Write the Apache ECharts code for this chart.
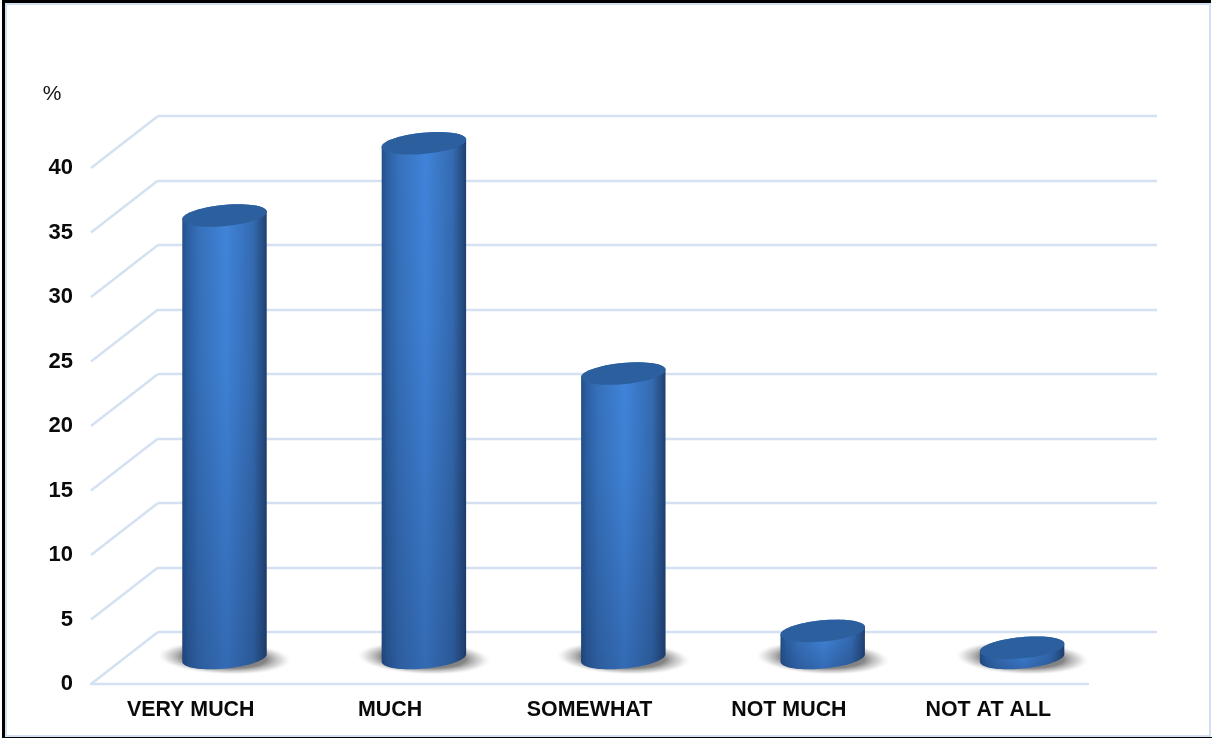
<!DOCTYPE html>
<html>
<head>
<meta charset="utf-8">
<style>html,body{margin:0;padding:0;background:#fff;overflow:hidden}#c{width:1212px;height:738px}</style>
<script src="https://cdn.jsdelivr.net/npm/echarts@6/dist/echarts.min.js"></script>
</head>
<body>
<div id="c"></div>
<script>
const categories = ['VERY MUCH', 'MUCH', 'SOMEWHAT', 'NOT MUCH', 'NOT AT ALL'];
const values = [34.3, 39.9, 22.05, 2.1, 0.8];
const yTicks = [0, 5, 10, 15, 20, 25, 30, 35, 40];
const yUnit = '%';

const FONT = '"Liberation Sans", Arial, sans-serif';
const LINE = '#d4e1f2';
const DEPTH = [67, -52];
const chart = echarts.init(document.getElementById('c'), null, {renderer: 'canvas'});
const G = echarts.graphic;

function ellipsePts(cx, cy, rx, ry, rot, from, to, n) {
  const p = [];
  for (let k = 0; k <= n; k++) {
    const t = from + (to - from) * k / n;
    const ex = rx * Math.cos(t), ey = ry * Math.sin(t);
    p.push([cx + ex * Math.cos(rot) - ey * Math.sin(rot), cy + ex * Math.sin(rot) + ey * Math.cos(rot)]);
  }
  return p;
}

function renderCyl(params, api) {
  const i = api.value(0), v = api.value(1);
  const b = api.coord([i, 0]), t = api.coord([i, v]);
  const cx = b[0] + DEPTH[0] / 2 + 0.3, by = b[1] + DEPTH[1] / 2, ty = t[1] + DEPTH[1] / 2;
  const rx = 42.4, ry = 10.6, rot = -0.095;
  const bottom = ellipsePts(cx, by, rx, ry, rot, Math.PI, 0, 40);
  const topArc = ellipsePts(cx, ty, rx, ry, rot, 0, -Math.PI, 40);
  const pts = bottom.concat(topArc);
  const horiz = new G.LinearGradient(0, 0, 1, 0, [
    {offset: 0, color: '#234f88'}, {offset: 0.07, color: '#2c60a3'}, {offset: 0.2, color: '#3671bb'},
    {offset: 0.52, color: '#4084da'}, {offset: 0.84, color: '#346bb1'},
    {offset: 0.95, color: '#274f86'}, {offset: 1, color: '#1f3f70'}
  ]);
  const vert = new G.LinearGradient(0, 0, 0, 1, [
    {offset: 0, color: 'rgba(20,40,80,0)'}, {offset: 0.35, color: 'rgba(20,40,80,0.04)'},
    {offset: 1, color: 'rgba(20,40,80,0.28)'}
  ]);
  return {
    type: 'group',
    children: [
      {type: 'circle', shape: {cx: 0, cy: 0, r: 50}, x: cx, y: by, scaleX: 1.34, scaleY: 0.33, rotation: -0.04,
       style: {fill: new G.RadialGradient(0.5, 0.5, 0.5, [
         {offset: 0, color: 'rgba(100,100,100,0.95)'}, {offset: 0.62, color: 'rgba(120,120,120,0.9)'},
         {offset: 0.85, color: 'rgba(185,185,185,0.5)'}, {offset: 1, color: 'rgba(230,230,230,0)'}
       ])}},
      {type: 'polygon', shape: {points: pts}, style: {fill: horiz}},
      {type: 'polygon', shape: {points: pts}, style: {fill: vert}},
      {type: 'polygon', shape: {points: ellipsePts(cx, ty, rx, ry, rot, 0, 2 * Math.PI, 60)}, style: {fill: '#2c5f9e'}}
    ]
  };
}

function renderDiag(params, api) {
  const p = api.coord([0, api.value(0)]);
  const x0 = params.coordSys.x;
  return {type: 'line', shape: {x1: x0, y1: p[1], x2: x0 + DEPTH[0], y2: p[1] + DEPTH[1]},
          style: {stroke: LINE, lineWidth: 2.4, fill: null}};
}

chart.setOption({
  animation: false,
  backgroundColor: '#fff',
  graphic: [
    {type: 'rect', shape: {x: 2, y: 0, width: 1209, height: 3}, z: 10, silent: true, style: {fill: '#000'}},
    {type: 'rect', shape: {x: 2, y: 0, width: 3, height: 738}, z: 10, silent: true, style: {fill: '#000'}},
    {type: 'rect', shape: {x: 2, y: 737, width: 1210, height: 1}, z: 10, silent: true, style: {fill: '#000'}},
    {type: 'rect', shape: {x: 6, y: 4, width: 1204, height: 732}, z: 10, silent: true,
     style: {fill: null, stroke: '#d3e0f2', lineWidth: 2}},
    {type: 'text', x: 52, y: 94, z: 10, style: {text: yUnit, font: '21px ' + FONT, fill: '#111', align: 'center', verticalAlign: 'middle'}}
  ],
  grid: [
    {left: 91, top: 168, width: 997, height: 516},
    {left: 158, top: 116, width: 999, height: 516}
  ],
  xAxis: [
    {type: 'category', gridIndex: 0, data: categories,
     axisLine: {show: true, lineStyle: {color: LINE, width: 2.4}}, axisTick: {show: false},
     axisLabel: {margin: 15.5, color: '#0a0a0a', fontFamily: FONT, fontSize: 21.4, fontWeight: 'bold', interval: 0}},
    {type: 'category', gridIndex: 1, data: categories, show: false}
  ],
  yAxis: [
    {type: 'value', gridIndex: 0, min: 0, max: 40, interval: 5,
     axisLine: {show: false}, axisTick: {show: false}, splitLine: {show: false},
     axisLabel: {margin: 18, padding: [4, 0, 0, 0], color: '#0a0a0a', fontFamily: FONT, fontSize: 22, fontWeight: 'bold'}},
    {type: 'value', gridIndex: 1, min: 0, max: 40, interval: 5,
     axisLine: {show: false}, axisTick: {show: false}, axisLabel: {show: false},
     splitLine: {show: true, lineStyle: {color: LINE, width: 2.4}}}
  ],
  series: [
    {type: 'custom', xAxisIndex: 0, yAxisIndex: 0, data: yTicks.map(t => [t]), encode: {y: 0}, renderItem: renderDiag, silent: true, z: 1},
    {type: 'custom', xAxisIndex: 0, yAxisIndex: 0, data: values.map((v, i) => [i, v]), encode: {x: 0, y: 1}, renderItem: renderCyl, clip: false, z: 3}
  ]
});
</script>
</body>
</html>
